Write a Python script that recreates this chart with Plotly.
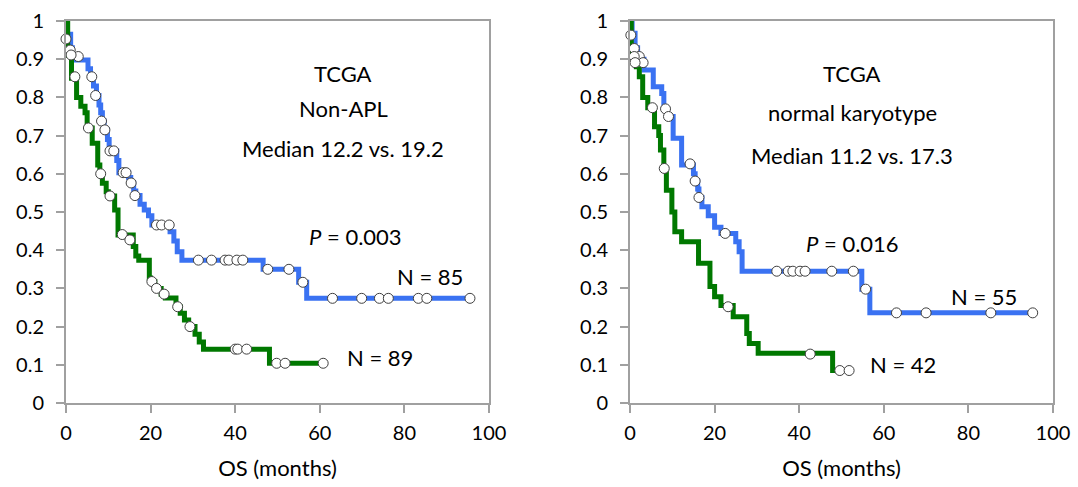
import plotly.graph_objects as go

# ---------------- Left panel: TCGA Non-APL ----------------
L_blue_t = [0, 0.3, 1.1, 1.5, 5.2, 5.8, 6.5, 7.2, 7.8, 8.2, 8.6, 9.0, 9.8, 10.2, 12.0, 12.5,
            14.8, 15.3, 16.0, 16.5, 17.5, 18.5, 19.5, 20.3, 24.6, 25.5, 26.3, 27.4, 46.6, 55.0, 56.9, 95.5]
L_blue_s = [1.0, 0.965, 0.93, 0.898, 0.875, 0.855, 0.83, 0.805, 0.78, 0.76, 0.738, 0.715, 0.69, 0.66, 0.635, 0.603,
            0.59, 0.576, 0.555, 0.543, 0.52, 0.505, 0.49, 0.466, 0.448, 0.424, 0.396, 0.374, 0.35, 0.316, 0.274, 0.274]
L_blue_ct = [0, 1.0, 2.9, 6.1, 7.0, 8.4, 9.2, 10.4, 11.3, 13.5, 14.2, 15.4, 16.3, 21.4, 22.6, 24.4,
             31.3, 34.4, 37.6, 38.5, 40.4, 41.8, 47.7, 52.7, 56.0, 63.0, 69.9, 74.1, 76.2, 83.3, 85.3, 95.5]
L_blue_cs = [0.953, 0.924, 0.907, 0.854, 0.805, 0.738, 0.715, 0.66, 0.66, 0.603, 0.603, 0.576, 0.543, 0.466, 0.466, 0.466,
             0.374, 0.374, 0.374, 0.374, 0.374, 0.374, 0.35, 0.35, 0.316, 0.274, 0.274, 0.274, 0.274, 0.274, 0.274, 0.274]

L_green_t = [0, 0.4, 1.3, 2.5, 3.5, 4.5, 5.0, 6.2, 7.5, 8.0, 8.6, 9.5, 10.0, 11.5, 12.3, 15.9, 16.5, 17.2,
             19.7, 20.0, 21.0, 22.5, 23.5, 26.0, 27.0, 28.0, 29.0, 30.5, 31.5, 32.5, 48.1, 60.8]
L_green_s = [1.0, 0.91, 0.85, 0.80, 0.777, 0.76, 0.72, 0.68, 0.623, 0.60, 0.575, 0.553, 0.542, 0.505, 0.44, 0.41, 0.385, 0.374,
             0.327, 0.318, 0.30, 0.285, 0.275, 0.252, 0.235, 0.217, 0.20, 0.18, 0.16, 0.141, 0.104, 0.104]
L_green_ct = [1.2, 2.1, 5.3, 8.2, 10.4, 13.3, 15.1, 20.3, 21.4, 23.2, 26.4, 29.3, 40.0, 40.6, 42.7, 49.8, 51.8, 60.8]
L_green_cs = [0.911, 0.854, 0.72, 0.60, 0.542, 0.441, 0.427, 0.318, 0.30, 0.285, 0.252, 0.20, 0.141, 0.141, 0.141,
              0.104, 0.104, 0.104]

# ---------------- Right panel: TCGA normal karyotype ----------------
R_blue_t = [0, 0.5, 1.2, 1.8, 3.3, 5.5, 7.5, 8.0, 8.8, 10.2, 12.2, 15.0, 15.4, 16.0, 16.3, 17.0, 18.5, 20.0,
            21.5, 25.0, 25.8, 26.5, 54.8, 56.7, 95.2]
R_blue_s = [1.0, 0.968, 0.93, 0.90, 0.872, 0.828, 0.81, 0.77, 0.75, 0.693, 0.623, 0.60, 0.581, 0.56, 0.538, 0.514, 0.49, 0.46,
            0.444, 0.422, 0.396, 0.345, 0.298, 0.236, 0.236]
R_blue_ct = [0.2, 1.0, 2.2, 3.1, 8.4, 9.1, 14.2, 15.4, 16.3, 22.5, 34.7, 37.4, 38.5, 40.2, 41.4, 47.7, 52.8, 55.7,
             63.0, 70.0, 85.3, 95.2]
R_blue_cs = [0.963, 0.928, 0.907, 0.891, 0.77, 0.75, 0.626, 0.581, 0.538, 0.444, 0.345, 0.345, 0.345, 0.345, 0.345,
             0.345, 0.345, 0.298, 0.236, 0.236, 0.236, 0.236]

R_green_t = [0, 0.3, 1.5, 2.2, 3.0, 4.2, 5.8, 6.8, 7.2, 8.0, 8.6, 9.9, 10.6, 12.2, 16.2, 18.9, 20.0, 21.5,
             24.4, 27.6, 28.2, 30.3, 47.9, 51.8]
R_green_s = [1.0, 0.907, 0.88, 0.854, 0.80, 0.773, 0.723, 0.70, 0.662, 0.614, 0.557, 0.50, 0.448, 0.422, 0.366, 0.305,
             0.278, 0.255, 0.226, 0.182, 0.156, 0.13, 0.085, 0.085]
R_green_ct = [1.0, 1.2, 5.3, 8.1, 23.2, 42.6, 49.6, 51.8]
R_green_cs = [0.907, 0.891, 0.773, 0.614, 0.252, 0.128, 0.085, 0.085]

x_ticks = [0, 20, 40, 60, 80, 100]
y_ticks = [0, 0.1, 0.2, 0.3, 0.4, 0.5, 0.6, 0.7, 0.8, 0.9, 1]
y_labels = ["0", "0.1", "0.2", "0.3", "0.4", "0.5", "0.6", "0.7", "0.8", "0.9", "1"]

BLUE = "#3a72f2"
GREEN = "#007800"
FONT = "Lato"

fig = go.Figure()

def add_panel(xa, ya, bt, bs, bct, bcs, gt, gs, gct, gcs):
    fig.add_trace(go.Scatter(x=bt, y=bs, mode="lines", line=dict(color=BLUE, width=5, shape="hv"),
                             xaxis=xa, yaxis=ya, showlegend=False, hoverinfo="skip"))
    fig.add_trace(go.Scatter(x=gt, y=gs, mode="lines", line=dict(color=GREEN, width=5, shape="hv"),
                             xaxis=xa, yaxis=ya, showlegend=False, hoverinfo="skip"))
    fig.add_trace(go.Scatter(x=bct + gct, y=bcs + gcs, mode="markers",
                             marker=dict(symbol="circle", size=10, color="white",
                                         line=dict(color="#404040", width=1)),
                             xaxis=xa, yaxis=ya, showlegend=False, cliponaxis=False))

add_panel("x", "y", L_blue_t, L_blue_s, L_blue_ct, L_blue_cs, L_green_t, L_green_s, L_green_ct, L_green_cs)
add_panel("x2", "y2", R_blue_t, R_blue_s, R_blue_ct, R_blue_cs, R_green_t, R_green_s, R_green_ct, R_green_cs)

W, H = 1078, 487
ydom = [1 - 403 / H, 1 - 21 / H]
tick_font = dict(family=FONT, size=20, color="black")
title_font = dict(family=FONT, size=22, color="black")
axis_common = dict(showline=True, linecolor="#a0a0a0", linewidth=2, mirror=True, showgrid=False,
                   zeroline=False, ticks="outside", ticklen=8, tickwidth=2, tickcolor="#a0a0a0",
                   tickfont=tick_font, automargin=False)

fig.update_layout(
    width=W, height=H, margin=dict(l=0, r=0, t=0, b=0),
    paper_bgcolor="white", plot_bgcolor="white",
    xaxis=dict(domain=[66 / W, 489 / W], range=[0, 100], tickvals=x_ticks, anchor="y",
               title=dict(text="OS (months)", font=title_font, standoff=18),
               ticklabelstandoff=3, **axis_common),
    yaxis=dict(domain=ydom, range=[0, 1], tickvals=y_ticks, ticktext=y_labels, anchor="x",
               ticklabelstandoff=8, **axis_common),
    xaxis2=dict(domain=[630 / W, 1053 / W], range=[0, 100], tickvals=x_ticks, anchor="y2",
                title=dict(text="OS (months)", font=title_font, standoff=18),
                ticklabelstandoff=3, **axis_common),
    yaxis2=dict(domain=ydom, range=[0, 1], tickvals=y_ticks, ticktext=y_labels, anchor="x2",
                ticklabelstandoff=8, **axis_common),
)

ann_font = dict(family=FONT, size=22, color="black")
annots = [
    ("x", "y", 65.5, 0.862, "TCGA"),
    ("x", "y", 65.5, 0.772, "Non-APL"),
    ("x", "y", 65.5, 0.667, "Median 12.2 vs. 19.2"),
    ("x", "y", 68.5, 0.436, "<i>P</i> = 0.003"),
    ("x", "y", 86.0, 0.332, "N = 85"),
    ("x", "y", 74.2, 0.118, "N = 89"),
    ("x2", "y2", 52.5, 0.862, "TCGA"),
    ("x2", "y2", 52.5, 0.76, "normal karyotype"),
    ("x2", "y2", 52.5, 0.649, "Median 11.2 vs. 17.3"),
    ("x2", "y2", 52.5, 0.418, "<i>P</i> = 0.016"),
    ("x2", "y2", 83.8, 0.28, "N = 55"),
    ("x2", "y2", 64.5, 0.102, "N = 42"),
]
for xr, yr, xv, yv, txt in annots:
    fig.add_annotation(x=xv, y=yv, xref=xr, yref=yr, text=txt, showarrow=False, font=ann_font,
                       xanchor="center", yanchor="middle")

fig.write_html("out.html", config={"displayModeBar": False},
               post_script="document.body.style.margin='0px';")
